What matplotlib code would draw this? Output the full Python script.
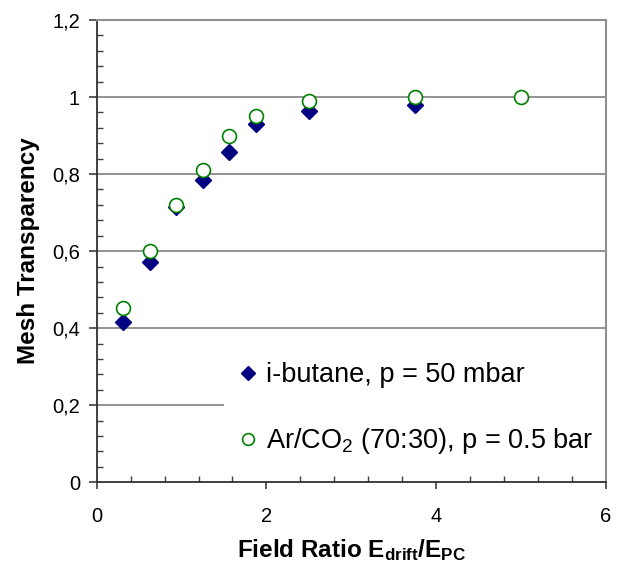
import matplotlib
matplotlib.use('Agg')
import matplotlib.pyplot as plt
from matplotlib.ticker import MultipleLocator, FixedLocator

plt.rcParams['font.family'] = ['Liberation Sans', 'DejaVu Sans']
plt.rcParams['mathtext.fontset'] = 'custom'
plt.rcParams['mathtext.rm'] = 'Liberation Sans'
plt.rcParams['mathtext.bf'] = 'Liberation Sans:bold'
plt.rcParams['mathtext.default'] = 'regular'

# data
ratio_butane = [0.3125, 0.625, 0.9375, 1.25, 1.5625, 1.875, 2.5, 3.75]
trans_butane = [0.415, 0.571, 0.715, 0.785, 0.857, 0.930, 0.963, 0.979]
ratio_arco2 = [0.3125, 0.625, 0.9375, 1.25, 1.5625, 1.875, 2.5, 3.75, 5.0]
trans_arco2 = [0.452, 0.600, 0.720, 0.810, 0.900, 0.950, 0.990, 1.000, 1.000]
ytick_vals = [0, 0.2, 0.4, 0.6, 0.8, 1.0, 1.2]
ytick_labels = ['0', '0,2', '0,4', '0,6', '0,8', '1', '1,2']
xtick_vals = [0, 2, 4, 6]

fig = plt.figure(figsize=(6.2, 5.72), dpi=100, facecolor='white')
ax = fig.add_axes([0.156, 0.157, 0.821, 0.808])

for yv in ytick_vals[1:-1]:
    ax.axhline(yv, color='#808080', linewidth=1.2, zorder=1)

ax.plot(ratio_butane, trans_butane, linestyle='none', marker='D', markersize=8,
        color='#000080', label='i-butane, p = 50 mbar', zorder=3)
ax.plot(ratio_arco2, trans_arco2, linestyle='none', marker='o', markersize=10,
        markerfacecolor='white', markeredgecolor='#008000', markeredgewidth=1.2,
        label='Ar/CO$_2$ (70:30), p = 0.5 bar', zorder=4)

ax.set_xlim(0, 6)
ax.set_ylim(0, 1.2)
ax.xaxis.set_major_locator(FixedLocator(xtick_vals))
ax.xaxis.set_minor_locator(MultipleLocator(0.4))
ax.yaxis.set_major_locator(FixedLocator(ytick_vals))
ax.yaxis.set_minor_locator(MultipleLocator(0.04))
ax.set_yticklabels(ytick_labels)
ax.tick_params(axis='y', which='major', direction='out', length=6, width=1.2,
               labelsize=14.5, pad=6, color='#404040')
ax.tick_params(axis='x', which='major', direction='out', length=5, width=1.2,
               labelsize=14.5, pad=13, color='#404040')
ax.tick_params(axis='both', which='minor', direction='in', length=4, width=1,
               color='#404040')

for side in ['top', 'right']:
    ax.spines[side].set_color('#909090')
    ax.spines[side].set_linewidth(1.5)
for side in ['left', 'bottom']:
    ax.spines[side].set_color('#303030')
    ax.spines[side].set_linewidth(1.3)

ax.set_xlabel(r'Field Ratio E$_{drift}$/E$_{PC}$', fontsize=17.5, fontweight='bold', labelpad=8)
ax.set_ylabel('Mesh Transparency', fontsize=17.5, fontweight='bold', labelpad=9)

leg = ax.legend(loc='lower right', bbox_to_anchor=(1.0, 0.03), fontsize=19.5,
                frameon=True, framealpha=1, facecolor='white', edgecolor='none',
                fancybox=False, labelspacing=1.4, handletextpad=0.2,
                handlelength=0.9, borderpad=0.45, borderaxespad=0.0,
                markerscale=0.85)
leg.set_zorder(2)

fig.savefig('out.png', dpi=100, facecolor='white')
